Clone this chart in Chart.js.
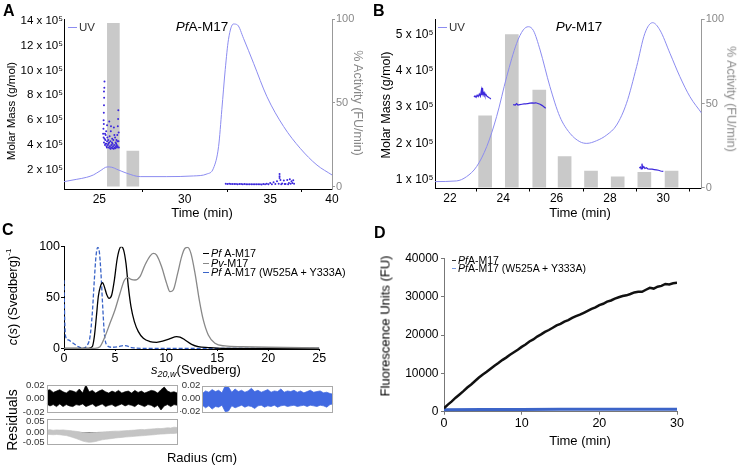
<!DOCTYPE html>
<html>
<head>
<meta charset="utf-8">
<script src="https://cdn.jsdelivr.net/npm/chart.js@4.4.1/dist/chart.umd.min.js"></script>
<style>
  body { margin: 0; background: #fff; }
  #fig { position: relative; width: 738px; height: 466px; overflow: hidden;
         font-family: "Liberation Sans", Arial, sans-serif; color: #000; }
  canvas { position: absolute; }
  .c { position: absolute; white-space: nowrap; line-height: 1; transform: translate(-50%, -50%); }
  .l { transform: translate(-50%, -50%) rotate(-90deg); }
  .r { transform: translate(-50%, -50%) rotate(90deg); }
  .pl { position: absolute; font-weight: bold; font-size: 16px; line-height: 1; }
  .lg { position: absolute; white-space: nowrap; }
  .lg div { display: flex; align-items: center; }
  .sw { display: inline-block; margin-right: 2px; }
</style>
</head>
<body>
<div id="fig">
  <canvas id="cA" width="370" height="220" style="left:0;top:0"></canvas>
  <canvas id="cB" width="368" height="220" style="left:370px;top:0"></canvas>
  <canvas id="cC" width="370" height="160" style="left:0;top:220px"></canvas>
  <canvas id="cR1" width="190" height="45" style="left:0;top:376px"></canvas>
  <canvas id="cR2" width="190" height="45" style="left:0;top:410px"></canvas>
  <canvas id="cR3" width="170" height="45" style="left:180px;top:376px"></canvas>
  <canvas id="cD" width="368" height="231" style="left:370px;top:235px"></canvas>

  <!-- panel A -->
  <div class="pl" style="left:3px;top:3px">A</div>
  <div class="c l" style="left:12px;top:111px;font-size:11.5px">Molar Mass (g/mol)</div>
  <div class="c r" style="left:358px;top:103px;font-size:12.5px;color:#888">% Activity (FU/min)</div>
  <div class="c" style="left:202px;top:212px;font-size:13px">Time (min)</div>
  <div class="c" style="left:202px;top:27px;font-size:13.5px"><i>Pf</i>A-M17</div>
  <div class="lg" style="left:68px;top:21px;font-size:11.5px;line-height:12px;color:#333">
    <div><span class="sw" style="width:9px;border-top:1px solid #8c8cf0"></span>UV</div>
  </div>

  <!-- panel B -->
  <div class="pl" style="left:373px;top:3px">B</div>
  <div class="c l" style="left:386px;top:105px;font-size:12.5px">Molar Mass (g/mol)</div>
  <div class="c r" style="left:731px;top:99px;font-size:12.5px;color:#888">% Activity (FU/min)</div>
  <div class="c" style="left:580px;top:212px;font-size:13px">Time (min)</div>
  <div class="c" style="left:579px;top:27px;font-size:13.5px"><i>Pv</i>-M17</div>
  <div class="lg" style="left:438px;top:21px;font-size:11.5px;line-height:12px;color:#333">
    <div><span class="sw" style="width:9px;border-top:1px solid #8c8cf0"></span>UV</div>
  </div>

  <!-- panel C -->
  <div class="pl" style="left:2px;top:222px">C</div>
  <div class="c l" style="left:12px;top:297px;font-size:13px"><i>c</i>(<i>s</i>) (Svedberg)<sup style="font-size:8px">-1</sup></div>
  <div class="c" style="left:196px;top:371px;font-size:13px"><i>s</i><sub style="font-size:9px"><i>20,w</i></sub>(Svedberg)</div>
  <div class="lg" style="left:203px;top:249px;font-size:10.8px;line-height:9.5px">
    <div><span class="sw" style="width:6px;border-top:1.5px solid #000"></span><i>Pf</i>&nbsp;A-M17</div>
    <div><span class="sw" style="width:6px;border-top:1.5px solid #888"></span><i>Pv</i>-M17</div>
    <div><span class="sw" style="width:6px;border-top:1.5px dashed #3a64c8"></span><i>Pf</i>&nbsp;A-M17 (W525A + Y333A)</div>
  </div>
  <div class="c l" style="left:12px;top:420px;font-size:14px">Residuals</div>
  <div class="c" style="left:202px;top:457px;font-size:13px">Radius (cm)</div>

  <!-- panel D -->
  <div class="pl" style="left:374px;top:225px">D</div>
  <div class="c l" style="left:385px;top:326px;font-size:13px">Fluorescence Units (FU)</div>
  <div class="c" style="left:580px;top:440px;font-size:13px">Time (min)</div>
  <div class="lg" style="left:452px;top:257px;font-size:10.5px;line-height:7.7px">
    <div><span class="sw" style="width:4px;border-top:1px solid #333"></span><i>Pf</i>A-M17</div>
    <div><span class="sw" style="width:4px;border-top:1px solid #7a9ae0"></span><i>Pf</i>A-M17 (W525A + Y333A)</div>
  </div>
</div>

<script>
// ---- A: PfA-M17 SEC-MALS ----  [time (min), value]
const uvA = [[22.93,3.0],[23.68,4.4],[24.26,5.6],[24.65,7.0],[25.04,9.4],[25.47,11.8],[25.73,11.6],
  [26.02,10.4],[26.61,8.0],[27.39,6.0],[28.95,6.0],[30.51,6.4],[31.30,7.6],[31.68,11],[31.98,24],
  [32.17,46],[32.37,70],[32.56,88],[32.85,97.2],[33.09,96.6],[33.44,88.6],[34.03,73.7],[34.81,53.8],
  [35.79,35.9],[36.76,22.9],[37.74,12.9],[38.62,7.0]];
const activityA = [[25.82,97.6],[26.96,21.3]];
// molar mass in units of 10^5 g/mol
const massA1 = [[25.22,4.9],[25.24,5.3],[25.25,6.0],[25.26,6.6],[25.27,7.2],[25.28,7.8],[25.29,8.6],
  [25.30,9.1],[25.27,8.3],[25.26,5.7],[25.25,4.6],[25.27,4.2],[25.30,4.5],[25.33,4.0],[25.35,4.4],
  [25.37,4.8],[25.40,4.1],[25.42,3.9],[25.45,4.3],[25.47,4.6],[25.50,4.0],[25.52,4.4],[25.55,3.8],
  [25.57,4.2],[25.60,4.7],[25.62,3.9],[25.65,4.3],[25.67,5.1],[25.70,4.0],[25.72,3.8],[25.75,4.5],
  [25.77,4.1],[25.80,3.9],[25.82,4.4],[25.85,5.4],[25.87,4.0],[25.90,3.8],[25.92,4.6],[25.95,4.2],
  [25.97,3.9],[26.00,4.4],[26.02,4.0],[26.05,4.8],[26.07,3.9],[26.08,5.5],[26.10,6.1],[26.11,6.8],
  [26.12,4.3],[26.14,3.8],[26.13,5.0],[25.45,5.6],[25.58,5.9],[25.68,5.5],[25.40,5.1],[25.88,4.8],
  [25.33,4.9],[25.63,3.75],[25.93,3.75],[26.03,3.8],[25.78,3.75],[25.36,4.1],[25.53,4.1],[25.74,4.2],
  [25.98,4.1],[26.06,4.3],[25.44,3.8],[25.66,3.7],[25.84,3.7]];
const massA2 = [[32.4,0.90],[32.5,0.88],[32.6,0.89],[32.7,0.87],[32.8,0.88],[32.9,0.87],[33.0,0.88],
  [33.1,0.86],[33.2,0.87],[33.3,0.87],[33.4,0.86],[33.5,0.87],[33.6,0.86],[33.7,0.85],[33.8,0.86],
  [33.9,0.85],[34.0,0.86],[34.1,0.85],[34.2,0.86],[34.3,0.85],[34.4,0.86],[34.5,0.84],[34.6,0.87],
  [34.7,0.85],[34.8,0.90],[34.9,0.86],[35.0,0.95],[35.1,0.86],[35.2,1.02],[35.3,0.88],[35.4,1.10],
  [35.5,0.90],[35.55,1.67],[35.55,1.50],[35.55,1.35],[35.6,1.20],[35.65,0.85],[35.7,0.92],[35.8,1.15],
  [35.85,0.87],[35.9,0.88],[36.0,1.20],[36.05,0.86],[36.1,0.95],[36.15,1.25],[36.2,0.90],[36.25,1.10],
  [36.3,0.95],[36.35,1.18],[36.4,0.90]];

// ---- B: Pv-M17 SEC-MALS ----
const uvB = [[21.44,3.6],[22.25,4.0],[22.62,6.5],[23.0,12.5],[23.38,24.4],[23.75,42.2],[24.13,66],
  [24.5,85.7],[24.75,93.7],[24.94,95.6],[25.13,93.3],[25.38,81.8],[25.75,60],[26.12,42.2],[26.5,32.3],
  [26.87,27.3],[27.13,26.3],[27.5,27.9],[27.88,31.3],[28.25,37.2],[28.62,50.1],[29.0,71.9],[29.31,91.7],
  [29.6,98],[29.87,93.7],[30.25,79.8],[30.62,66],[31.0,54],[31.44,44.2]];
const activityB = [[23.32,42.6],[24.32,90.9],[25.35,58],[26.3,18.4],[27.29,9.9],[28.29,6.5],[29.29,9.1],[30.31,9.9]];
const massB1 = [[22.90,3.28],[22.94,3.31],[22.98,3.27],[23.02,3.33],[23.06,3.29],[23.10,3.36],[23.14,3.30],
  [23.18,3.47],[23.20,3.33],[23.22,3.53],[23.25,3.34],[23.28,3.40],[23.31,3.32],[23.35,3.35],[23.39,3.30],
  [23.43,3.28],[23.47,3.26],[23.50,3.25],[23.53,3.22]];
const massB2 = [[24.37,3.07],[24.45,3.06],[24.50,3.10],[24.55,3.06],[24.62,3.07],[24.70,3.08],[24.78,3.09],
  [24.85,3.09],[24.92,3.10],[25.00,3.11],[25.08,3.12],[25.15,3.11],[25.22,3.12],[25.30,3.10],[25.38,3.08],
  [25.45,3.05],[25.52,3.01],[25.59,2.97]];
const massB3 = [[29.10,1.33],[29.14,1.36],[29.17,1.31],[29.20,1.45],[29.23,1.33],[29.27,1.37],[29.31,1.32],
  [29.36,1.34],[29.42,1.31],[29.50,1.30],[29.58,1.30],[29.66,1.29],[29.74,1.28],[29.82,1.27],[29.90,1.25],
  [30.00,1.24]];

// ---- C: AUC c(s) distributions ---- [s20,w, c(s)]
const csPf = [[0,0],[2.38,0],[2.77,1.6],[2.97,11.5],[3.17,31],[3.36,51],[3.56,60.7],[3.78,64.6],[3.95,60.7],
  [4.18,53],[4.41,49.2],[4.67,52.5],[4.93,67],[5.19,86.9],[5.42,97.4],[5.61,100],[5.84,96.7],[6.07,83.6],
  [6.3,60.7],[6.56,41],[6.89,26.2],[7.28,16.4],[7.77,9.8],[8.42,6.6],[9.07,5.9],[9.73,7.2],[10.38,9.5],
  [11.03,11.5],[11.36,11.1],[11.85,8.2],[12.5,3.9],[13.15,1.6],[14.13,0.7],[15.44,0],[25,0]];
const csPv = [[0,0],[3.03,0],[3.52,1.6],[4.01,11.5],[4.5,24.6],[4.99,37.7],[5.48,54],[5.91,67],[6.23,69.5],
  [6.56,67.9],[6.95,67.2],[7.44,70.5],[7.93,82],[8.42,90.8],[8.75,93.4],[9.07,91.8],[9.56,80.3],[10.05,63.9],
  [10.38,55.7],[10.7,57.4],[11.13,73.8],[11.52,90.2],[11.85,98.4],[12.11,99.3],[12.43,93.4],[12.83,73.8],
  [13.25,47.5],[13.64,27.9],[14.13,13.1],[14.78,4.9],[15.76,2.3],[17.4,1.6],[20,1.0],[25,0.3]];
const csMut = [[0,67],[0.07,27.9],[0.16,11.5],[0.42,8.2],[0.91,4.9],[1.4,1.6],[1.89,0],[2.22,2.3],[2.55,11.5],
  [2.77,34.4],[2.97,67.2],[3.13,90.2],[3.3,99.3],[3.46,95],[3.62,73.8],[3.79,41],[3.95,14.8],[4.18,3.3],
  [4.67,1.0],[5.32,1.6],[5.81,2.6],[6.14,2.3],[6.63,0.7],[7.6,0],[25,0]];

// residual envelopes (upper / lower edge of each residual band) vs radius (cm)
const radius = [6.00,6.03,6.06,6.09,6.12,6.15,6.18,6.21,6.24,6.27,6.30,6.33,6.36,6.39,6.42,6.45,6.48,6.51,
  6.54,6.57,6.60,6.63,6.66,6.69,6.72,6.75,6.78,6.81,6.84,6.87,6.90,6.93,6.96,6.99,7.02,7.05,7.08,7.11,7.14,7.17,7.20];
const resPfUp = [0.012,0.013,0.009,0.011,0.013,0.010,0.008,0.012,0.011,0.009,0.014,0.008,0.020,0.010,0.012,
  0.008,0.011,0.013,0.010,0.008,0.011,0.009,0.012,0.008,0.010,0.011,0.008,0.012,0.009,0.011,0.008,0.010,
  0.012,0.011,0.008,0.013,0.017,0.011,0.009,0.010,0.008];
const resPfLo = [-0.008,-0.011,-0.009,-0.012,-0.008,-0.012,-0.009,-0.011,-0.012,-0.009,-0.010,-0.008,-0.012,
  -0.010,-0.008,-0.012,-0.010,-0.008,-0.012,-0.010,-0.009,-0.012,-0.010,-0.008,-0.011,-0.009,-0.010,-0.012,
  -0.008,-0.010,-0.012,-0.009,-0.010,-0.013,-0.010,-0.017,-0.011,-0.009,-0.012,-0.009,-0.010];
const resPvUp = [0.010,0.012,0.009,0.011,0.010,0.011,0.009,0.008,0.006,0.004,0.002,-0.002,-0.003,-0.004,
  -0.003,-0.002,0.000,0.001,0.002,0.003,0.004,0.005,0.005,0.006,0.007,0.008,0.009,0.010,0.012,0.013,0.012,
  0.014,0.015,0.016,0.018,0.017,0.019,0.021,0.020,0.024,0.022];
const resPvLo = [-0.010,-0.011,-0.012,-0.011,-0.012,-0.014,-0.016,-0.020,-0.025,-0.030,-0.036,-0.042,-0.046,
  -0.048,-0.047,-0.044,-0.040,-0.036,-0.034,-0.032,-0.030,-0.028,-0.026,-0.025,-0.023,-0.022,-0.021,-0.019,
  -0.018,-0.017,-0.016,-0.014,-0.013,-0.012,-0.010,-0.009,-0.008,-0.007,-0.006,-0.006,-0.004];
const resMutUp = [0.008,0.012,0.010,0.014,0.011,0.013,0.009,0.020,0.018,0.010,0.015,0.011,0.013,0.010,0.012,
  0.016,0.011,0.013,0.010,0.012,0.014,0.010,0.012,0.011,0.015,0.010,0.012,0.011,0.013,0.010,0.012,0.009,
  0.011,0.013,0.010,0.011,0.012,0.009,0.010,0.008,0.007];
const resMutLo = [-0.010,-0.014,-0.011,-0.016,-0.012,-0.013,-0.010,-0.020,-0.019,-0.011,-0.014,-0.012,-0.010,
  -0.013,-0.011,-0.012,-0.015,-0.011,-0.010,-0.013,-0.011,-0.012,-0.010,-0.013,-0.011,-0.010,-0.012,-0.011,
  -0.010,-0.012,-0.011,-0.010,-0.012,-0.010,-0.011,-0.012,-0.010,-0.011,-0.013,-0.009,-0.008];

// ---- D: activity assay ---- [time (min), FU]
const fuPf = [[0,900],[0.5,1850],[1,2700],[1.5,3650],[2,4500],[2.5,5350],[3,6300],[3.5,7100],[4,8000],
  [4.5,8900],[5,9700],[5.5,10400],[6,11200],[6.5,12000],[7,12700],[7.5,13450],[8,14100],[8.5,14850],
  [9,15500],[9.5,16150],[10,16900],[10.5,17500],[11,18300],[11.5,18850],[12,19600],[12.5,20150],[13,20800],
  [13.5,21300],[14,21900],[14.5,22500],[15,22900],[15.5,23500],[16,23900],[16.5,24450],[17,24900],
  [17.5,25300],[18,25800],[18.5,26300],[19,26800],[19.5,27200],[20,27800],[20.5,28150],[21,28700],
  [21.5,29000],[22,29500],[22.5,29850],[23,30150],[23.5,30350],[24,30700],[24.5,31100],[25,31300],
  [25.5,31250],[26,31800],[26.5,32300],[27,32100],[27.5,32600],[28,32800],[28.5,33300],[29,33200],
  [29.5,33500],[30,33600]];
const fuMut = [[0,500],[5,560],[10,600],[15,620],[20,640],[25,630],[30,620]];

Chart.defaults.font.family = '"Liberation Sans", Arial, sans-serif';
Chart.defaults.color = '#000';

const pts = a => a.map(p => ({ x: p[0], y: p[1] }));
const onRadius = ys => radius.map((r, i) => ({ x: r, y: ys[i] }));
const tickAt = vals => s => { s.ticks = vals.map(v => ({ value: v })); };
const fitW = n => s => { s.width = n; };
const fitH = n => s => { s.height = n; };

const baseOpts = (padding, scales, extra) => Object.assign({
  responsive: false,
  animation: false,
  layout: { padding },
  plugins: { legend: { display: false }, tooltip: { enabled: false } },
  scales
}, extra || {});

// frame round the residual plots
const framePlugin = {
  id: 'frame',
  afterDraw(chart) {
    const { ctx, chartArea: a } = chart;
    ctx.save();
    ctx.strokeStyle = '#aaa';
    ctx.lineWidth = 1;
    ctx.strokeRect(Math.round(a.left) + 0.5, Math.round(a.top) + 0.5,
                   Math.round(a.width) - 1, Math.round(a.height) - 1);
    ctx.restore();
  }
};

const massTick = v => v + ' x 10\u2075';

// ---------------- panel A ----------------
new Chart(document.getElementById('cA'), {
  type: 'bar',
  data: { datasets: [
    { type: 'bar', data: pts(activityA), yAxisID: 'y2', backgroundColor: '#c9c9c9',
      barThickness: 12, grouped: false, order: 3 },
    { type: 'line', data: pts(uvA), yAxisID: 'y2', borderColor: '#8c8cf0', borderWidth: 1,
      pointRadius: 0, cubicInterpolationMode: 'monotone', order: 2 },
    { type: 'scatter', data: pts(massA1.concat(massA2)), yAxisID: 'y', pointRadius: 1,
      pointBorderWidth: 0, pointBackgroundColor: '#3c28dc', order: 1 }
  ]},
  options: baseOpts({ top: 19.3, left: 0, right: 0, bottom: 0 }, {
    x: { type: 'linear', min: 22.93, max: 38.62, offset: false,
         afterBuildTicks: tickAt([25, 30, 35, 38.62]), afterFit: fitH(31),
         ticks: { font: { size: 12 }, padding: 0, autoSkip: false, maxRotation: 0,
                  callback: v => (v > 38 ? '40' : String(v)) },
         grid: { drawOnChartArea: false, color: '#000', tickLength: 3 }, border: { color: '#000' } },
    y: { type: 'linear', position: 'left', min: 0.47, max: 14.1,
         afterBuildTicks: tickAt([2, 4, 6, 8, 10, 12, 14]), afterFit: fitW(64),
         ticks: { font: { size: 11.5 }, padding: 1, autoSkip: false, callback: massTick },
         grid: { drawOnChartArea: false, drawTicks: false }, border: { color: '#000' } },
    y2: { type: 'linear', position: 'right', min: -1.4, max: 100,
          afterBuildTicks: tickAt([0, 50, 100]), afterFit: fitW(38),
          ticks: { font: { size: 11 }, padding: 1, color: '#888', autoSkip: false },
          grid: { drawOnChartArea: false, color: '#999', tickLength: 3 }, border: { color: '#999' } }
  })
});

// ---------------- panel B ----------------
const massLine = d => ({ type: 'line', data: pts(d), yAxisID: 'y', borderColor: '#3c28dc',
  borderWidth: 1.2, pointRadius: 0, order: 1 });
new Chart(document.getElementById('cB'), {
  type: 'bar',
  data: { datasets: [
    { type: 'bar', data: pts(activityB), yAxisID: 'y2', backgroundColor: '#c9c9c9',
      barThickness: 13, grouped: false, order: 3 },
    { type: 'line', data: pts(uvB), yAxisID: 'y2', borderColor: '#8c8cf0', borderWidth: 1,
      pointRadius: 0, cubicInterpolationMode: 'monotone', order: 2 },
    massLine(massB1), massLine(massB2), massLine(massB3)
  ]},
  options: baseOpts({ top: 19.3, left: 0, right: 0, bottom: 0 }, {
    x: { type: 'linear', min: 21.44, max: 31.44, offset: false,
         afterBuildTicks: tickAt([22, 24, 26, 28, 30]), afterFit: fitH(31.5),
         ticks: { font: { size: 12 }, padding: 0, autoSkip: false, maxRotation: 0 },
         grid: { drawOnChartArea: false, color: '#000', tickLength: 3 }, border: { color: '#000' } },
    y: { type: 'linear', position: 'left', min: 0.77, max: 5.41,
         afterBuildTicks: tickAt([1, 2, 3, 4, 5]), afterFit: fitW(65),
         ticks: { font: { size: 12 }, padding: 1.5, autoSkip: false, callback: massTick },
         grid: { drawOnChartArea: false, drawTicks: false }, border: { color: '#000' } },
    y2: { type: 'linear', position: 'right', min: -0.5, max: 100,
          afterBuildTicks: tickAt([0, 50, 100]), afterFit: fitW(36.3),
          ticks: { font: { size: 11 }, padding: 1, color: '#888', autoSkip: false },
          grid: { drawOnChartArea: false, color: '#999', tickLength: 3 }, border: { color: '#999' } }
  })
});

// ---------------- panel C ----------------
const csLine = (d, color, dash) => ({ data: pts(d), borderColor: color, borderWidth: 1.3,
  borderDash: dash || [], pointRadius: 0, cubicInterpolationMode: 'monotone' });
new Chart(document.getElementById('cC'), {
  type: 'line',
  data: { datasets: [
    csLine(csPv, '#888'),
    csLine(csPf, '#000'),
    csLine(csMut, '#3a64c8', [4, 2])
  ]},
  options: baseOpts({ top: 26.7, left: 0, right: 50.7, bottom: 0 }, {
    x: { type: 'linear', min: 0, max: 25, afterBuildTicks: tickAt([0, 5, 10, 15, 20, 25]),
         afterFit: fitH(31),
         ticks: { font: { size: 12.5 }, padding: 0, autoSkip: false, maxRotation: 0 },
         grid: { drawOnChartArea: false, color: '#000', tickLength: 2 }, border: { color: '#000' } },
    y: { type: 'linear', min: -0.7, max: 100, afterBuildTicks: tickAt([0, 50, 100]),
         afterFit: fitW(64),
         ticks: { font: { size: 12.5 }, padding: 1, autoSkip: false },
         grid: { drawOnChartArea: false, color: '#000', tickLength: 3 }, border: { color: '#000' } }
  })
});

// residual plots
function residual(id, up, lo, color, yMin, yMax, yTicks, padding, leftW, zeroLine) {
  new Chart(document.getElementById(id), {
    type: 'line',
    data: { datasets: [
      { data: onRadius(up), borderColor: color, borderWidth: 0.7, pointRadius: 0, fill: false },
      { data: onRadius(lo), borderColor: color, borderWidth: 0.7, pointRadius: 0, fill: '-1',
        backgroundColor: color }
    ]},
    options: baseOpts(padding, {
      x: { type: 'linear', min: 6.0, max: 7.2, display: false },
      y: { type: 'linear', min: yMin, max: yMax, afterBuildTicks: tickAt(yTicks), afterFit: fitW(leftW),
           ticks: { font: { size: 9.6 }, padding: 2, color: '#333', autoSkip: false,
                    callback: v => v.toFixed(2) },
           grid: { drawTicks: false,
                   color: c => (zeroLine && c.tick && c.tick.value === 0 ? '#777' : 'rgba(0,0,0,0)') },
           border: { display: false } }
    }),
    plugins: [framePlugin]
  });
}
residual('cR1', resPfUp, resPfLo, '#000', -0.021, 0.02, [-0.02, 0, 0.02],
         { top: 9, left: 0, right: 12.7, bottom: 8.3 }, 46.7, false);
residual('cR2', resPvUp, resPvLo, '#c4c4c4', -0.0624, 0.0614, [-0.05, 0, 0.05],
         { top: 9.3, left: 0, right: 12.7, bottom: 9.7 }, 46.7, true);
residual('cR3', resMutUp, resMutLo, '#4169e1', -0.0215, 0.02, [-0.02, 0, 0.02],
         { top: 9.7, left: 0, right: 16.7, bottom: 8.3 }, 22.3, false);

// ---------------- panel D ----------------
new Chart(document.getElementById('cD'), {
  type: 'line',
  data: { datasets: [
    { data: pts(fuPf), borderColor: '#111', borderWidth: 2.5, pointRadius: 0 },
    { data: pts(fuMut), borderColor: '#3c64c8', borderWidth: 3, pointRadius: 0 }
  ]},
  options: baseOpts({ top: 23.3, left: 0, right: 61, bottom: 0 }, {
    x: { type: 'linear', min: 0, max: 30, afterBuildTicks: tickAt([0, 10, 20, 30]), afterFit: fitH(54.3),
         ticks: { font: { size: 12.5 }, padding: 1, autoSkip: false, maxRotation: 0 },
         grid: { drawOnChartArea: false, color: '#777', tickLength: 3 }, border: { color: '#777' } },
    y: { type: 'linear', min: 0, max: 40000, afterBuildTicks: tickAt([0, 10000, 20000, 30000, 40000]),
         afterFit: fitW(74),
         ticks: { font: { size: 12 }, padding: 2.5, autoSkip: false, callback: v => String(v) },
         grid: { drawOnChartArea: false, color: '#777', tickLength: 3 }, border: { color: '#777' } }
  })
});
</script>
</body>
</html>
